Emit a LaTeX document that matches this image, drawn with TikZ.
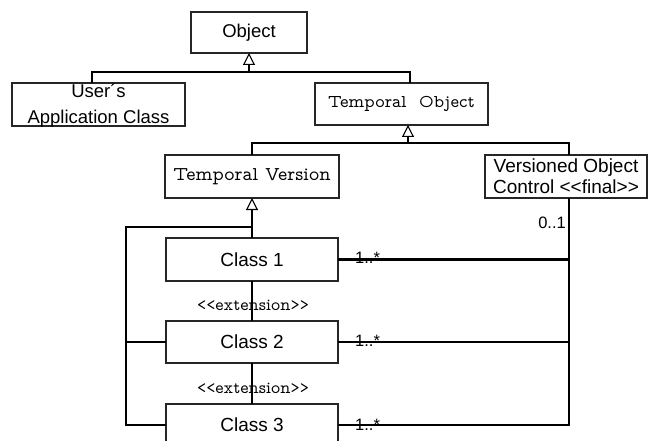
\documentclass[tikz,border=0pt]{standalone}
\usepackage{fontspec}
\setmainfont{Liberation Sans}
\newfontfamily\slabfont{lmmonoprop10-regular}[Extension=.otf]
\usetikzlibrary{arrows.meta}

\begin{document}
\begin{tikzpicture}[x=1pt,y=-1pt,
  umlbox/.style={draw=black!85, line width=1.3pt, inner sep=0pt, outer sep=0pt, align=center},
  sanstext/.style={font=\fontsize{19}{21}\selectfont},
  exttext/.style={font=\slabfont\fontsize{17.5}{19}\selectfont, inner sep=0pt},
  conn/.style={line width=2.5pt, line join=miter},
  gen/.style={conn, -{Triangle[open, length=12pt, width=12pt, line width=1.1pt]}},
  mult/.style={font=\fontsize{16.5}{18}\selectfont, inner sep=0pt}]
\useasboundingbox (0,0) rectangle (648,441);

% classes
\node[umlbox, minimum width=116pt, minimum height=41pt, font=\fontsize{18.5}{20}\selectfont] (obj) at (249,32.5) {Object};
\node[umlbox, minimum width=173pt, minimum height=43pt, font=\fontsize{18.5}{26}\selectfont] (usr) at (98.5,104.5)
  {\raisebox{6.5pt}[0pt][0pt]{\begin{tabular}[t]{@{}c@{}}User´s\\Application Class\end{tabular}}};
\node[umlbox, font=\slabfont\fontsize{18}{20}\selectfont, minimum width=173pt, minimum height=42pt] (tobj) at (401.5,104) {Temporal\ \ Object};
\node[umlbox, font=\slabfont\fontsize{19.5}{21}\selectfont, minimum width=174pt, minimum height=43pt] (tver) at (252,176.5) {Temporal Version};
\node[umlbox, minimum width=162pt, minimum height=43pt, font=\fontsize{19}{21}\selectfont] (voc) at (566,176.5) {Versioned Object\\Control <{}<final>{}>};
\node[umlbox, sanstext, minimum width=172pt, minimum height=43pt] (c1) at (252,259.5) {Class 1};
\node[umlbox, sanstext, minimum width=172pt, minimum height=42pt] (c2) at (252,342) {Class 2};
\node[umlbox, sanstext, minimum width=172pt, minimum height=42pt] (c3) at (252,425) {Class 3};

% stereotypes on the extension links
\node[exttext] (x1) at (253,305) {<{}<extension>{}>};
\node[exttext] (x2) at (253,388) {<{}<extension>{}>};

% junction points
\coordinate (j1) at (249,72);
\coordinate (j2) at (408,143);
\coordinate (j3) at (252,227);
\coordinate (lx) at (126,227);
\coordinate (rx) at (569,426);

% generalisations
\draw[conn] ([xshift=-6.5pt]usr.north) |- (j1) -| ([xshift=8.5pt]tobj.north);
\draw[gen] (j1) -- (obj.south);
\draw[conn] (tver.north) |- (j2) -| ([xshift=3pt]voc.north);
\draw[gen] (j2) -- ([xshift=6.5pt]tobj.south);
\draw[conn] (c1.north) -- (j3) -- (lx) |- (c3.west);
\draw[gen] (j3) -- (tver.south);
\draw[conn] (c2.west) -- (c2.west -| lx);

% extensions
\draw[conn] (c1.south) -- (c2.north);
\draw[conn] (c2.south) -- (c3.north);

% associations to the version control
\draw[conn] ([xshift=3pt]voc.south) |- (c3.east);
\draw[conn] (c1.east) -- (c1.east -| rx);
\draw[conn] (c2.east) -- (c2.east -| rx);

% multiplicities
\node[mult, anchor=base west] (m1) at (355,263) {1..*};
\node[mult, anchor=base west] (m2) at (355,346) {1..*};
\node[mult, anchor=base west] (m3) at (355,430) {1..*};
\node[mult, anchor=base east] (m0) at (566,228) {0..1};
\end{tikzpicture}
\end{document}
